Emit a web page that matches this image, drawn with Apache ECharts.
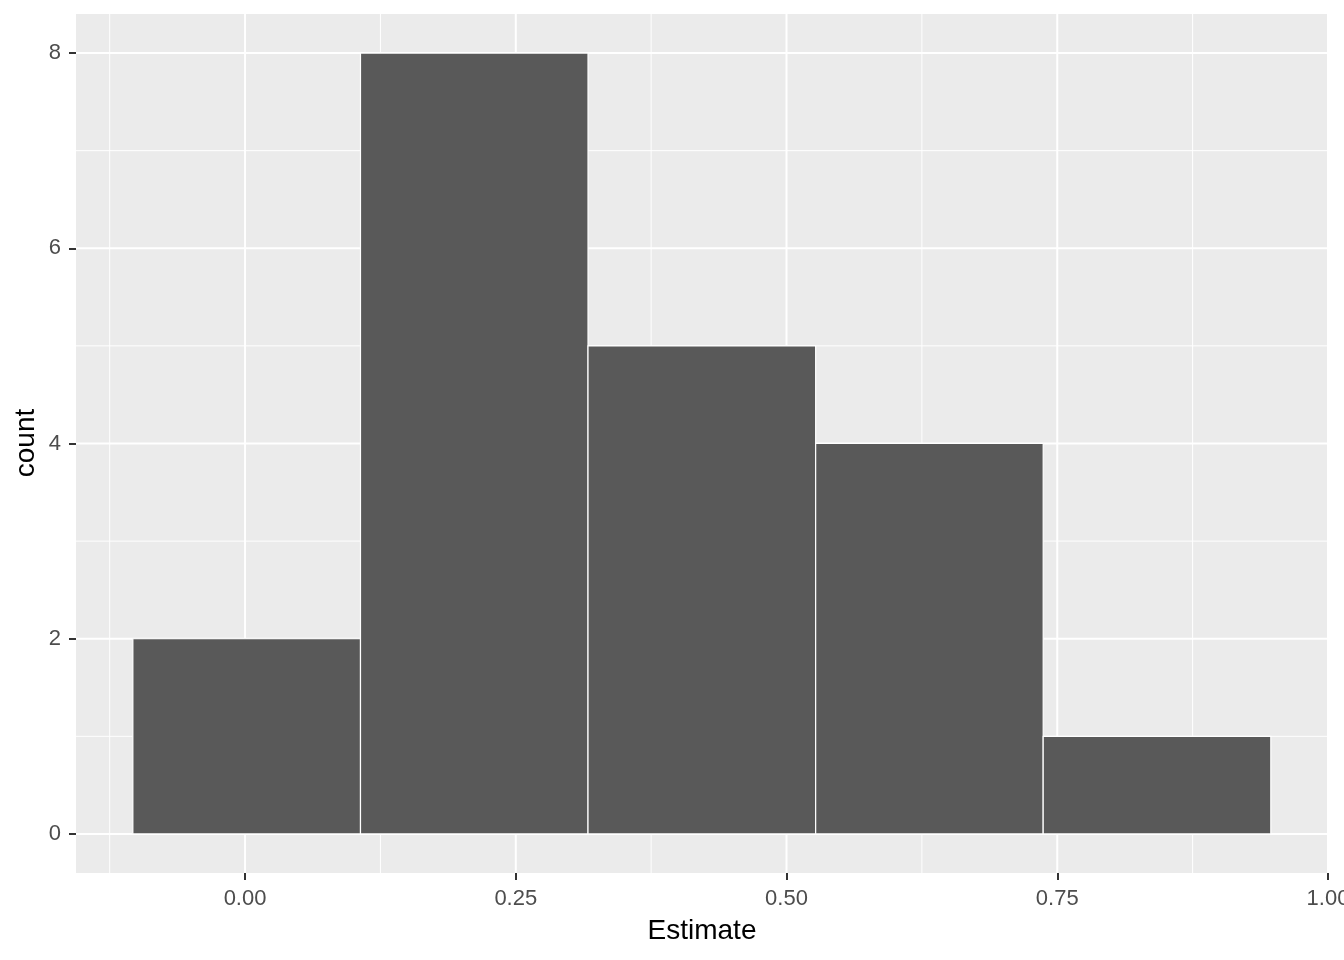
<!DOCTYPE html>
<html>
<head>
<meta charset="utf-8">
<script src="https://cdn.jsdelivr.net/npm/echarts@6/dist/echarts.min.js"></script>
<style>html,body{margin:0;padding:0;background:#fff;}#c{width:1344px;height:960px;}</style>
</head>
<body>
<div id="c"></div>
<script>
// Histogram bins (left edge, right edge) and counts
const binStarts = [-0.1036, 0.1066, 0.3167, 0.5269, 0.7370];
const binEnds   = [ 0.1066, 0.3167, 0.5269, 0.7370, 0.9472];
const counts    = [2, 8, 5, 4, 1];

// Axis ticks
const xTicks = [0, 0.25, 0.5, 0.75, 1.0];
const xMinor = [-0.125, 0.125, 0.375, 0.625, 0.875];
const yTicks = [0, 2, 4, 6, 8];
const yMinor = [1, 3, 5, 7];

const xMin = -0.1561, xMax = 1.0;
const yMin = -0.4, yMax = 8.4;

const FONT = '"Liberation Sans", Arial, sans-serif';

const gridData = [];
xMinor.forEach(v => gridData.push([v, 0, 'x', 1]));
yMinor.forEach(v => gridData.push([0, v, 'y', 1]));
xTicks.forEach(v => gridData.push([v, 0, 'x', 2]));
yTicks.forEach(v => gridData.push([0, v, 'y', 2]));

const barData = binStarts.map((s, i) => [s, binEnds[i], counts[i]]);

const chart = echarts.init(document.getElementById('c'), null, {renderer: 'canvas'});
chart.setOption({
  backgroundColor: '#ffffff',
  animation: false,
  grid: {left: 76, right: 16, top: 14, bottom: 87, show: true, backgroundColor: '#EBEBEB', borderWidth: 0,
         containLabel: false, outerBoundsMode: 'none'},
  xAxis: {
    type: 'value', min: xMin, max: xMax,
    axisLine: {show: false, onZero: false},
    splitLine: {show: false},
    axisTick: {show: true, customValues: xTicks, length: 7, lineStyle: {color: '#333333', width: 2}},
    axisLabel: {customValues: xTicks, formatter: v => v.toFixed(2), color: '#4D4D4D', fontSize: 22, fontFamily: FONT, margin: 15, hideOverlap: false}
  },
  yAxis: {
    type: 'value', min: yMin, max: yMax,
    axisLine: {show: false, onZero: false},
    splitLine: {show: false},
    axisTick: {show: true, customValues: yTicks, length: 7, lineStyle: {color: '#333333', width: 2}},
    axisLabel: {customValues: yTicks, formatter: v => String(v), color: '#4D4D4D', fontSize: 22, fontFamily: FONT, margin: 15}
  },
  graphic: [
    {type: 'text', x: 0, y: 0, style: {text: 'Estimate', x: 702, y: 931, align: 'center', verticalAlign: 'middle', fontSize: 28, fontFamily: FONT, fill: '#000'}},
    {type: 'text', x: 26, y: 443, rotation: Math.PI / 2, style: {text: 'count', x: 0, y: 0, align: 'center', verticalAlign: 'middle', fontSize: 28, fontFamily: FONT, fill: '#000'}}
  ],
  series: [
    {
      type: 'custom', z: 1, silent: true,
      data: gridData,
      encode: {x: 0, y: 1},
      renderItem: function (params, api) {
        const cs = params.coordSys;
        const axis = api.value(2);
        const w = api.value(3);
        let shape;
        if (axis === 'x') {
          const p = api.coord([api.value(0), 0]);
          shape = {x1: p[0], y1: cs.y, x2: p[0], y2: cs.y + cs.height};
        } else {
          const p = api.coord([0, api.value(1)]);
          shape = {x1: cs.x, y1: p[1], x2: cs.x + cs.width, y2: p[1]};
        }
        return {type: 'line', shape: shape, style: {stroke: '#FFFFFF', lineWidth: w}};
      }
    },
    {
      type: 'custom', z: 2, silent: true,
      data: barData,
      encode: {x: [0, 1], y: 2},
      renderItem: function (params, api) {
        const p0 = api.coord([api.value(0), api.value(2)]);
        const p1 = api.coord([api.value(1), 0]);
        return {type: 'rect', shape: {x: p0[0], y: p0[1], width: p1[0] - p0[0], height: p1[1] - p0[1]},
          style: {fill: '#595959', stroke: '#FFFFFF', lineWidth: 1.2}};
      }
    }
  ]
});
</script>
</body>
</html>
